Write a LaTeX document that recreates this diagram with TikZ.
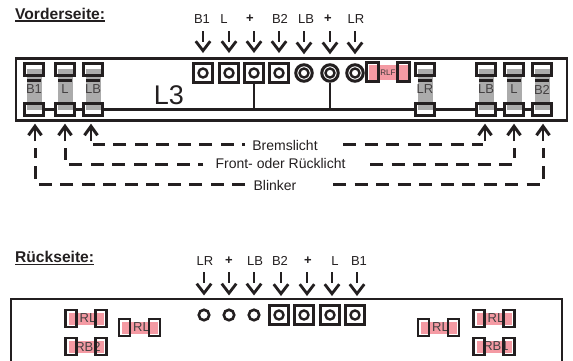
\documentclass[tikz,border=0pt]{standalone}
\usepackage{fontspec}
\setmainfont{Liberation Sans}
\usetikzlibrary{arrows.meta}
\definecolor{ink}{HTML}{231F20}
\definecolor{fuse}{HTML}{ABABAB}
\definecolor{rose}{HTML}{F49AA3}
\tikzset{
    txt/.style={inner sep=0pt, text=ink, font=\fontsize{13}{13}\selectfont},
    head/.style={inner sep=0pt, text=ink, font=\fontsize{15.6}{15.6}\selectfont\bfseries},
    board/.style={draw=ink, line width=2.8pt},
    wire/.style={draw=ink, line width=2.7pt},
    padbox/.style={rectangle, fill=white, inner sep=0pt},
    pad/.style={padbox, minimum width=19pt, minimum height=12pt},
    padv/.style={padbox, minimum width=10.5pt, minimum height=16.5pt},
    outline/.style={draw=ink, line width=2.7pt},
    pinline/.style={draw=ink, line width=2.8pt, dash pattern=on 11pt off 40pt,
        -{Straight Barb[length=9.5pt, width=14.5pt, line width=2.8pt]}},
    pinup/.style={draw=ink, line width=2.8pt,
        -{Straight Barb[length=9pt, width=13pt, line width=3pt]}},
    dashline/.style={draw=ink, line width=3pt, dash pattern=on 13pt off 8.5pt},
    squarepin/.style={rectangle, draw=ink, line width=3pt, inner sep=0pt, minimum size=19pt},
    ring/.style={circle, draw=ink, line width=3pt, inner sep=0pt, minimum size=16.5pt},
    hole/.style={circle, draw=ink, line width=2.4pt, inner sep=0pt, minimum size=9pt},
}
\begin{document}
\begin{tikzpicture}[x=1pt, y=-1pt]
    \useasboundingbox (0,0) rectangle (573,360);

    % Front side
    \node[head, anchor=west] (front) at (15,14) {Vorderseite:};
    \draw[line width=1.2pt, draw=ink] (front.west |- 0,21) -- (front.east |- 0,21);
    \node[board, rectangle, inner sep=0pt, minimum width=551pt, minimum height=62pt] (frontboard) at (291.5,89.5) {};
    \node[inner sep=0pt, text=ink, font=\fontsize{27}{27}\selectfont] (l3) at (169,95) {L3};

    % Fuses
    \foreach \i/\x/\nom in {1/34/B1, 2/65/L, 3/93/LB, 4/425/LR, 5/486/LB, 6/514/L, 7/542/B2} {
        \node[pad] (F\i t) at (\x,69.5) {};
        \node[pad] (F\i b) at (\x,109.5) {};
        \fill[fuse] (\x-7.5,69) rectangle (\x+7.5,110);
        \fill[ink] (\x-7,79) rectangle (\x+7,82);
        \node[txt, text=ink!85] (F\i) at (\x,89.5) {\nom};
        \draw[outline] (F\i t.south west) rectangle (F\i t.north east);
        \draw[outline] (F\i b.south west) rectangle (F\i b.north east);
    }
    \foreach \i/\j in {1/2, 2/3, 3/4, 4/5, 5/6, 6/7} {
        \draw[wire] (F\i b.east) -- (F\j b.west);
    }

    % Front connectors
    \foreach \i/\x in {1/203, 2/229, 3/254, 4/279} {
        \node[squarepin] (T\i) at (\x,73) {};
        \node[hole] (H\i) at (\x,73) {};
    }
    \foreach \i/\x in {5/304, 6/330, 7/355} {
        \node[ring] (T\i) at (\x,73) {};
        \node[hole] (H\i) at (\x,73) {};
    }
    \draw[wire] (T3.south) -- (T3.south |- F3b);
    \draw[wire] (T6.south) -- (T6.south |- F3b);

    % Front pins
    \foreach \i/\x/\nom in {1/202/B1, 2/224/L, 3/250/\textbf{+}, 4/280/B2, 5/306/LB, 6/328/\textbf{+}, 7/356/LR} {
        \node[txt] (A\i) at (\x,19) {\nom};
        \coordinate (S\i) at (T\i.north |- 0,31);
        \draw[pinline, shorten >=9pt] (S\i) -- (T\i.north);
    }

    % Resistor on the front
    \node[padv, minimum width=12pt, minimum height=19pt] (Xa) at (372.5,72) {};
    \node[padv, minimum width=12pt, minimum height=19pt] (Xb) at (403.5,72) {};
    \fill[rose] (369,65) rectangle (409,80);
    \node[inner sep=0pt, text=ink!90, font=\fontsize{8}{8}\selectfont] (X) at (388,72.5) {RLF};
    \draw[outline] (Xa.south west) rectangle (Xa.north east);
    \draw[outline] (Xb.south west) rectangle (Xb.north east);

    % Bottom arrows
    \foreach \i/\x in {1/35, 2/65, 3/91, 5/485, 6/514, 7/543} {
        \coordinate (U\i) at (\x,141);
        \draw[pinup, shorten >=8pt] (U\i) -- (U\i |- F\i b.south);
    }

    % Legend with its dashed lines
    \node[txt, font=\fontsize{14}{14}\selectfont] (brake) at (285,145) {Bremslicht};
    \node[txt, font=\fontsize{14}{14}\selectfont] (tail) at (280.5,163.5) {Front- oder Rücklicht};
    \node[txt, font=\fontsize{14}{14}\selectfont] (blink) at (275,185) {Blinker};
    \coordinate (b1) at (35,148);
    \coordinate (b2) at (65,148);
    \coordinate (b3) at (93,144);
    \coordinate (b5) at (483,144);
    \coordinate (b6) at (514,148);
    \coordinate (b7) at (543,148);
    \draw[dashline, dash phase=10pt] (245,144) -- (b3);
    \draw[dashline] (343,144) -- (b5);
    \draw[dashline, dash phase=8pt] (203,164) -| (b2);
    \draw[dashline] (370,164) -| (b6);
    \draw[dashline] (245,184) -| (b1);
    \draw[dashline] (333,184) -| (b7);

    % Back side
    \node[head, anchor=west] (back) at (15,257) {Rückseite:};
    \draw[line width=1.2pt, draw=ink] (back.west |- 0,264.5) -- (back.east |- 0,264.5);
    \draw[board] (11,362) |- (562,299) -- (562,362);

    \foreach \i/\x in {1/204, 2/229, 3/254} {
        \node[circle, draw=ink, line width=2.6pt, inner sep=0pt, minimum size=10.5pt] (Q\i) at (\x,315) {};
    }
    \foreach \i/\x in {4/279, 5/304, 6/330, 7/355} {
        \node[squarepin] (Q\i) at (\x,315) {};
        \node[hole] (W\i) at (\x,315) {};
    }
    \foreach \i/\x/\lx/\nom/\gap in {1/204/205/LR/13, 2/229/229/\textbf{+}/13, 3/254/255/LB/13, 4/281/280/B2/8, 5/307/308/\textbf{+}/8, 6/332/335/L/8, 7/357/359/B1/8} {
        \node[txt] (B\i) at (\lx,261) {\nom};
        \coordinate (V\i) at (\x,272);
        \draw[pinline, shorten >=\gap pt] (V\i) -- (V\i |- Q\i.north);
    }

    % Resistors on the back
    \foreach \i/\x/\y/\nom in {1/86/318.5/RL, 2/139.5/327.5/RL, 3/86/346.5/RB2, 4/438.5/327.5/RL, 5/494/318.5/RL, 6/494/346.5/RB1} {
        \node[padv] (R\i a) at (\x-15,\y) {};
        \node[padv] (R\i b) at (\x+15,\y) {};
        \fill[rose] (\x-17.5,\y-6) rectangle (\x+18,\y+6);
        \node[txt, text=ink!85] (R\i) at (\x+2,\y) {\nom};
        \draw[outline] (R\i a.south west) rectangle (R\i a.north east);
        \draw[outline] (R\i b.south west) rectangle (R\i b.north east);
    }

\end{tikzpicture}
\end{document}
